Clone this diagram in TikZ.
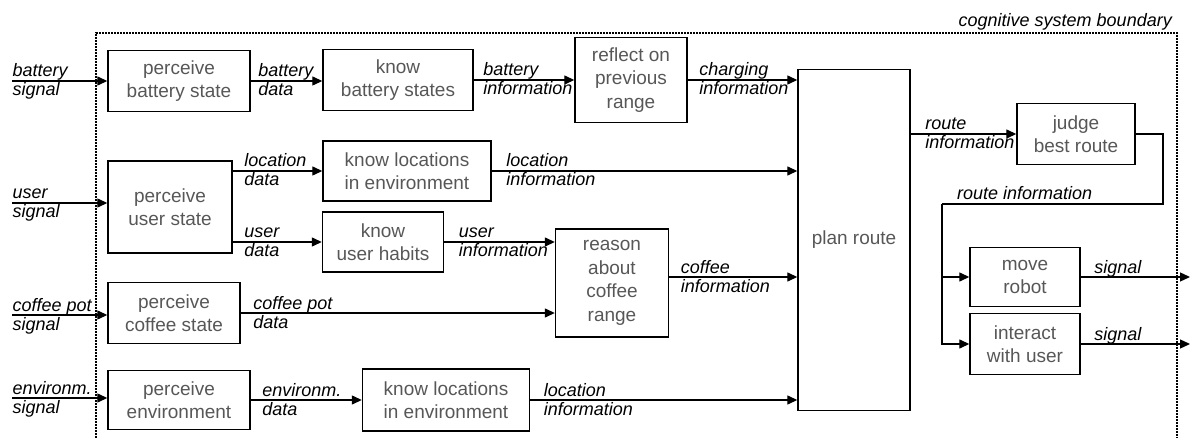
\documentclass[tikz,border=0pt]{standalone}
\usepackage{fontspec}
\setmainfont{Liberation Sans}
\usepackage{xcolor}
\usetikzlibrary{arrows.meta}
\definecolor{boxtext}{gray}{0.34}

\tikzset{
  proc/.style={draw,line width=1.4pt,align=center,inner sep=0pt,
    text=boxtext,font=\fontsize{19}{23.5}\selectfont},
  flow/.style={line width=1.3pt,-{Triangle[length=10pt,width=9pt]}},
  lab/.style={inner sep=0pt,font=\itshape\fontsize{18}{21}\selectfont},
  tagup/.style={lab,pos=0,anchor=base west,xshift=#1,yshift=4pt},
  tagup/.default=11pt,
  tagdn/.style={lab,pos=0,anchor=base west,xshift=#1,yshift=-15pt},
  tagdn/.default=11pt
}

\begin{document}
\begin{tikzpicture}[x=1pt,y=-1pt]
  \useasboundingbox (0,0) rectangle (1196,438);

  % system boundary
  \draw[line width=1.8pt,dash pattern=on 1.6pt off 1.4pt]
    (96,438) -- (96,33) -- (1177,33) -- (1177,438);
  \node[lab,anchor=base east,yshift=6pt] (sysb) at (1172,33) {cognitive system boundary};

  % processes
  \node[proc,minimum width=142pt,minimum height=61pt] (pbs) at (179,81) {perceive\\battery state};
  \node[proc,minimum width=150pt,minimum height=61pt] (kbs) at (398,80) {know\\battery states};
  \node[proc,minimum width=112pt,minimum height=85pt] (rpr) at (631,80) {reflect on\\previous\\range};
  \node[proc,minimum width=112pt,minimum height=341pt] (plan) at (854,240) {plan route};
  \node[proc,minimum width=118pt,minimum height=61pt] (jbr) at (1076,134) {judge\\best route};
  \node[proc,minimum width=124pt,minimum height=92pt] (pus) at (170,207) {perceive\\user state};
  \node[proc,minimum width=168pt,minimum height=60pt] (kle) at (407,171) {know locations\\in environment};
  \node[proc,minimum width=121pt,minimum height=60pt] (kuh) at (383,242) {know\\user habits};
  \node[proc,minimum width=113pt,minimum height=108pt] (rcr) at (612,283) {reason\\about\\coffee\\range};
  \node[proc,minimum width=132pt,minimum height=61pt] (pcs) at (174,313) {perceive\\coffee state};
  \node[proc,minimum width=142pt,minimum height=59pt] (pe) at (179,400) {perceive\\environment};
  \node[proc,minimum width=167pt,minimum height=62pt] (kle2) at (446,400) {know locations\\in environment};
  \node[proc,minimum width=110pt,minimum height=59pt] (mr) at (1025,277) {move\\robot};
  \node[proc,minimum width=110pt,minimum height=61pt] (iwu) at (1025,344) {interact\\with user};

  % free ends
  \coordinate (bsig) at (12,81);
  \coordinate (usig) at (12,203);
  \coordinate (csig) at (12,315);
  \coordinate (esig) at (12,398);
  \coordinate (outx) at (1190,0);
  \coordinate (rturn) at (1163,204);
  \coordinate (rsplit) at (942,204);

  % inputs
  \draw[flow] (bsig) -- node[tagup=0pt]{battery} node[tagdn=0pt]{signal} (bsig -| pbs.west);
  \draw[flow] (usig) -- node[tagup=0pt]{user} node[tagdn=0pt]{signal} (usig -| pus.west);
  \draw[flow] (csig) -- node[tagup=0pt]{coffee pot} node[tagdn=0pt]{signal} (csig -| pcs.west);
  \draw[flow] (esig) -- node[tagup=0pt]{environm.} node[tagdn=0pt]{signal} (esig -| pe.west);

  % battery path
  \draw[flow] (pbs.east) -- node[tagup=7pt]{battery} node[tagdn=7pt]{data} (pbs.east -| kbs.west);
  \draw[flow] (kbs.east) -- node[tagup=9pt]{battery} node[tagdn=9pt]{information} (kbs.east -| rpr.west);
  \draw[flow] (rpr.east) -- node[tagup]{charging} node[tagdn]{information} (rpr.east -| plan.west);

  % user path
  \draw[flow] (pus.east |- kle.west) -- node[tagup]{location} node[tagdn]{data} (kle.west);
  \draw[flow] (pus.east |- kuh.west) -- node[tagup]{user} node[tagdn]{data} (kuh.west);
  \draw[flow] (kle.east) -- node[tagup=14pt]{location} node[tagdn=14pt]{information} (kle.east -| plan.west);
  \draw[flow] (kuh.east) -- node[tagup=14pt]{user} node[tagdn=14pt]{information} (kuh.east -| rcr.west);

  % coffee path
  \draw[flow] (pcs.east) -- node[tagup=12pt]{coffee pot} node[tagdn=12pt]{data} (pcs.east -| rcr.west);
  \draw[flow] ([yshift=6pt]rcr.east) -- node[tagup]{coffee} node[tagdn]{information} ([yshift=6pt]rcr.east -| plan.west);

  % environment path
  \draw[flow] (pe.east) -- node[tagup]{environm.} node[tagdn]{data} (pe.east -| kle2.west);
  \draw[flow] (kle2.east) -- node[tagup=13pt]{location} node[tagdn=13pt]{information} (kle2.east -| plan.west);

  % route
  \draw[flow] (plan.east |- jbr.west) -- node[tagup=14pt]{route} node[tagdn=14pt]{information} (jbr.west);
  \draw[line width=1.3pt] (jbr.east) -| (rturn) -- (rsplit);
  \node[lab,anchor=base west,xshift=15pt,yshift=4pt] (rinfo) at (rsplit) {route information};
  \draw[flow] (rsplit) |- (mr.west);
  \draw[flow] (rsplit) |- (iwu.west);

  % outputs
  \draw[flow] (mr.east) -- node[tagup=13pt]{signal} (mr.east -| outx);
  \draw[flow] (iwu.east) -- node[tagup=13pt]{signal} (iwu.east -| outx);
\end{tikzpicture}
\end{document}
